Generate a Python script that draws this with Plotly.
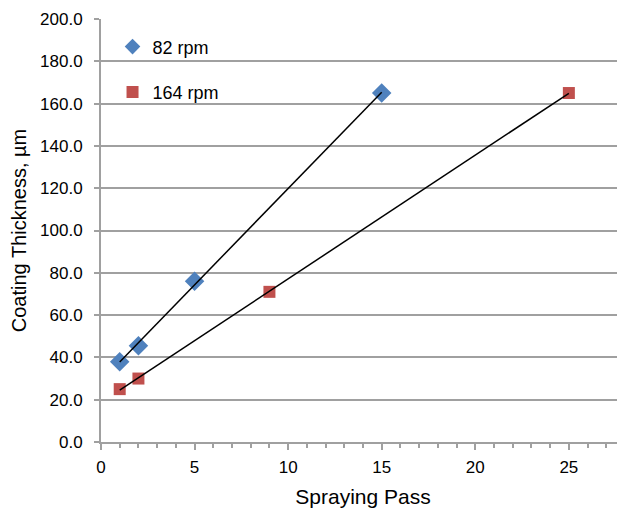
import numpy as np
import plotly.graph_objects as go

# Data
passes_82 = [1, 2, 5, 15]
thickness_82 = [38.0, 45.5, 76.0, 165.0]
passes_164 = [1, 2, 9, 25]
thickness_164 = [25.0, 30.0, 71.0, 165.0]
series_names = ["82 rpm", "164 rpm"]
y_ticks = [0, 20, 40, 60, 80, 100, 120, 140, 160, 180, 200]
x_ticks = [0, 5, 10, 15, 20, 25]

BLUE = "#4F81BD"
RED = "#C0504D"
GRID = "#a0a0a0"
FONT = "Liberation Sans, Arial, sans-serif"

fig = go.Figure()

fig.add_trace(go.Scatter(
    x=passes_82, y=thickness_82, mode="markers", name=series_names[0],
    marker=dict(symbol="diamond", size=15, color=BLUE),
    legend="legend",
))
fig.add_trace(go.Scatter(
    x=passes_164, y=thickness_164, mode="markers", name=series_names[1],
    marker=dict(symbol="square", size=12, color=RED),
    legend="legend2",
))

# Linear trend lines (least squares), drawn over the data range
for xs, ys in [(passes_82, thickness_82), (passes_164, thickness_164)]:
    slope, intercept = np.polyfit(xs, ys, 1)
    xl = np.array([min(xs), max(xs)], dtype=float)
    fig.add_trace(go.Scatter(
        x=xl, y=slope * xl + intercept, mode="lines",
        line=dict(color="black", width=1.5), showlegend=False, hoverinfo="skip",
    ))

# The page has an 8px body margin, so the figure is sized/offset for it
fig.update_layout(
    width=617, height=503,
    margin=dict(l=93, r=0, t=11, b=69),
    paper_bgcolor="white", plot_bgcolor="white",
    font=dict(family=FONT, size=17, color="black"),
    legend=dict(x=0.022, y=0.934, xanchor="left", yanchor="middle",
                bgcolor="rgba(0,0,0,0)", font=dict(size=18), itemsizing="constant"),
    legend2=dict(x=0.022, y=0.827, xanchor="left", yanchor="middle",
                 bgcolor="rgba(0,0,0,0)", font=dict(size=18), itemsizing="constant"),
)

fig.update_xaxes(
    range=[0, 28], tickvals=x_ticks, ticktext=[str(v) for v in x_ticks],
    showgrid=False, zeroline=False,
    showline=True, linecolor=GRID, linewidth=2,
    ticks="outside", ticklen=6, tickcolor=GRID, tickwidth=1.5,
    minor=dict(dtick=1, tick0=0, ticks="outside", ticklen=4, tickcolor=GRID, tickwidth=1.5, showgrid=False),
    ticklabelstandoff=3,
    title=dict(text="Spraying Pass", font=dict(size=21), standoff=13),
)
fig.update_yaxes(
    range=[0, 200], tickvals=y_ticks, ticktext=[f"{v:.1f}" for v in y_ticks],
    showgrid=True, gridcolor=GRID, gridwidth=1.5, zeroline=False,
    showline=True, linecolor=GRID, linewidth=2,
    ticks="outside", ticklen=5, tickcolor=GRID, tickwidth=1.5,
    ticklabelstandoff=8,
    title=dict(text="Coating Thickness, µm", font=dict(size=20), standoff=10),
)

fig.write_html("out.html")
